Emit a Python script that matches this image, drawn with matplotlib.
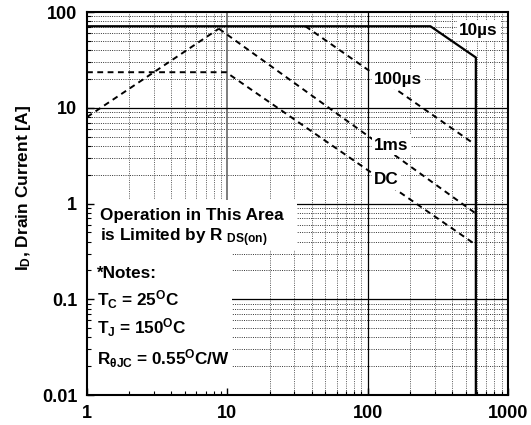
import numpy as np
import matplotlib
matplotlib.use('Agg')
import matplotlib.pyplot as plt
from matplotlib.patches import Rectangle
from matplotlib.ticker import FuncFormatter, LogLocator, NullFormatter

plt.rcParams['font.family'] = ['Liberation Sans', 'DejaVu Sans']
plt.rcParams['font.weight'] = 'bold'
plt.rcParams['mathtext.fontset'] = 'custom'
plt.rcParams['mathtext.rm'] = 'Liberation Sans:bold'
plt.rcParams['mathtext.bf'] = 'Liberation Sans:bold'
plt.rcParams['mathtext.it'] = 'Liberation Sans:bold'

# Safe operating area limits (V_DS [V], I_D [A])
lim_10us_x = [1, 280, 590, 590]
lim_10us_y = [71, 71, 33.5, 0.01]
rds_x = [1, 8.7]
rds_y = [8.0, 67]
lim_100us_x = [36, 560]
lim_100us_y = [71, 4.3]
lim_1ms_x = [8.7, 580]
lim_1ms_y = [67, 0.8]
lim_dc_x = [1, 9.8, 575]
lim_dc_y = [23.5, 23.5, 0.38]

curve_labels = ['10\u00b5s', '100\u00b5s', '1ms', 'DC']
label_x = [616, 111, 111, 111]
label_y = [64, 19.7, 4.08, 1.76]

xticks = [1, 10, 100, 1000]
yticks = [0.01, 0.1, 1, 10, 100]

notes = [
    'Operation in This Area',
    r'is Limited by R ${}_{\mathbf{DS(on)}}$',
    '*Notes:',
    r'T$_\mathbf{C}$ = 25$^\mathbf{O}$C',
    r'T$_\mathbf{J}$ = 150$^\mathbf{O}$C',
    r'R$_\mathbf{θJC}$ = 0.55$^\mathbf{O}$C/W',
]
notes_x = [0.031, 0.031, 0.024, 0.024, 0.024, 0.024]
notes_y = [0.458, 0.401, 0.305, 0.232, 0.159, 0.078]

fs = 12.3

fig = plt.figure(figsize=(5.31, 4.25), dpi=100)
ax = fig.add_axes([87 / 531, 30 / 425, 421 / 531, 383 / 425])
ax.set_xscale('log')
ax.set_yscale('log')
ax.set_xlim(1, 1000)
ax.set_ylim(0.01, 100)
ax.xaxis.set_minor_locator(LogLocator(base=10, subs=np.arange(2, 10)))
ax.yaxis.set_minor_locator(LogLocator(base=10, subs=np.arange(2, 10)))
ax.set_xticks(xticks)
ax.set_yticks(yticks)
fmt = FuncFormatter(lambda v, p: f'{v:g}')
ax.xaxis.set_major_formatter(fmt)
ax.yaxis.set_major_formatter(fmt)
ax.xaxis.set_minor_formatter(NullFormatter())
ax.yaxis.set_minor_formatter(NullFormatter())

# grid drawn by hand so the white note boxes can sit between grid and ticks
for v in ax.xaxis.get_minorticklocs():
    if 1 < v < 1000:
        ax.axvline(v, color='0.35', lw=0.7, ls=(0, (1, 1.3)), zorder=0.8)
for v in ax.yaxis.get_minorticklocs():
    if 0.01 < v < 100:
        ax.axhline(v, color='0.2', lw=0.7, ls=(0, (1, 1.3)), zorder=0.8)
for v in xticks[1:-1]:
    ax.axvline(v, color='0.45' if v == 10 else 'k', lw=1.3 if v == 10 else 0.9, zorder=0.9)
for v in yticks[1:-1]:
    ax.axhline(v, color='k', lw=0.9, zorder=0.9)

ax.add_patch(Rectangle((0, 0.379), 0.498, 0.13, transform=ax.transAxes,
                       fc='white', ec='none', zorder=1))
ax.add_patch(Rectangle((0, 0), 0.344, 0.38, transform=ax.transAxes,
                       fc='white', ec='none', zorder=1))

dash = (0, (3, 2.3))
ax.plot(lim_10us_x, lim_10us_y, color='k', lw=1.6, zorder=2)
ax.plot(rds_x, rds_y, color='k', lw=1.4, ls=dash, zorder=2)
ax.plot(lim_100us_x, lim_100us_y, color='k', lw=1.4, ls=dash, zorder=2)
ax.plot(lim_1ms_x, lim_1ms_y, color='k', lw=1.4, ls=dash, zorder=2)
ax.plot(lim_dc_x, lim_dc_y, color='k', lw=1.4, ls=dash, zorder=2)

for i, (s, x, y) in enumerate(zip(curve_labels, label_x, label_y)):
    ax.text(x, y, s, ha='center' if i == 0 else 'left', va='center',
            fontsize=fs, fontweight='bold', zorder=3,
            bbox=dict(fc='white', ec='none', pad=1.5))

for s, x, y in zip(notes, notes_x, notes_y):
    ax.text(x, y, s, transform=ax.transAxes, ha='left', va='baseline',
            fontsize=fs, fontweight='bold', zorder=3)

ax.tick_params(which='both', direction='in', labelsize=13, pad=7)
ax.tick_params(which='major', length=5, width=1)
ax.tick_params(which='minor', length=3, width=0.8)
for lab in ax.get_xticklabels() + ax.get_yticklabels():
    lab.set_fontweight('bold')
for sp in ax.spines.values():
    sp.set_linewidth(1.5)

ax.set_ylabel(r'I$_\mathbf{D}$, Drain Current [A]', fontsize=12.5,
              fontweight='bold')
ax.yaxis.set_label_coords(-0.128, 0.54)

fig.savefig('out.png', dpi=100)
